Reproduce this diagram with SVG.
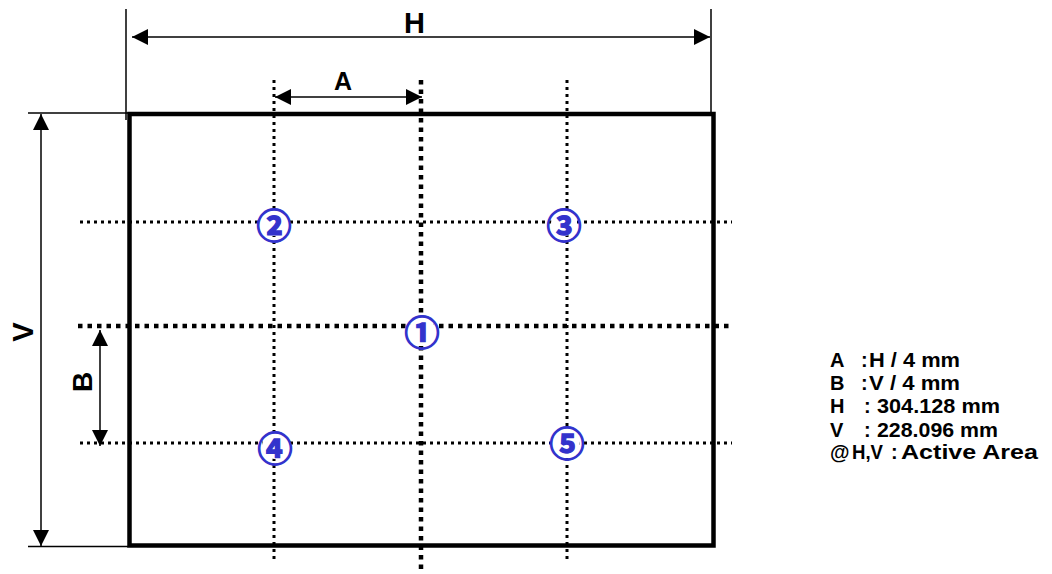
<svg xmlns="http://www.w3.org/2000/svg" width="1052" height="574" viewBox="0 0 1052 574">
<style>
.thin{stroke:#000;stroke-width:1.5;fill:none}
.dot{stroke:#000;stroke-width:3;stroke-dasharray:3 4;fill:none}
.dotk{stroke:#000;stroke-width:4.5;stroke-dasharray:4.5 5;fill:none}
.lbl{font-family:"Liberation Sans",Arial,sans-serif;font-weight:bold;fill:#000}
.num{font-family:"Noto Sans CJK JP","DejaVu Sans",sans-serif;font-weight:bold;font-size:35px;fill:#3333cc;stroke:#3333cc;stroke-width:1.3;text-anchor:middle;dominant-baseline:central}
.bg{fill:#fff;stroke:none}
</style>
<defs>
<marker id="ah" markerUnits="userSpaceOnUse" markerWidth="16" markerHeight="16" refX="14" refY="7" orient="auto-start-reverse" viewBox="0 0 14 14">
<path d="M0,0 L14,7 L0,14 Z" fill="#000"/>
</marker>
</defs>
<rect width="1052" height="574" fill="#fff"/>
<g id="grid">
<line class="dot" x1="274" y1="80" x2="274" y2="560"/>
<line class="dot" x1="567" y1="80" x2="567" y2="560"/>
<line class="dotk" x1="421" y1="80" x2="421" y2="574"/>
<line class="dot" x1="80" y1="222" x2="732" y2="222"/>
<line class="dotk" x1="78" y1="326" x2="732" y2="326"/>
<line class="dot" x1="80" y1="443" x2="732" y2="443"/>
</g>
<g id="active-area">
<rect x="129.5" y="114" width="584" height="431.5" fill="none" stroke="#000" stroke-width="4.5"/>
</g>
<g id="connectors">
<line class="thin" x1="126" y1="9" x2="126" y2="120"/>
<line class="thin" x1="711" y1="9" x2="711" y2="114"/>
<line class="thin" x1="28" y1="113" x2="128" y2="113"/>
<line class="thin" x1="28" y1="546.5" x2="128" y2="546.5"/>
<line class="thin" x1="132" y1="37" x2="710" y2="37" marker-start="url(#ah)" marker-end="url(#ah)"/>
<line class="thin" x1="275" y1="97" x2="422" y2="97" marker-start="url(#ah)" marker-end="url(#ah)"/>
<line class="thin" x1="41" y1="114" x2="41" y2="546" marker-start="url(#ah)" marker-end="url(#ah)"/>
<line class="thin" x1="100" y1="330" x2="100" y2="446" marker-start="url(#ah)" marker-end="url(#ah)"/>
</g>
<g id="dim-labels">
<text class="lbl" x="414.5" y="33" font-size="29" text-anchor="middle">H</text>
<text class="lbl" x="343" y="90" font-size="25" text-anchor="middle">A</text>
<text class="lbl" font-size="29" text-anchor="middle" transform="translate(33,332) rotate(-90)">V</text>
<text class="lbl" font-size="28" text-anchor="middle" transform="translate(92,382) rotate(-90)">B</text>
</g>
<g id="p1"><circle class="bg" cx="422" cy="330" r="13"/><text class="num" x="422" y="330">①</text></g>
<g id="p2"><circle class="bg" cx="274" cy="223" r="13"/><text class="num" x="274" y="223">②</text></g>
<g id="p3"><circle class="bg" cx="564" cy="223" r="13"/><text class="num" x="564" y="223">③</text></g>
<g id="p4"><circle class="bg" cx="275" cy="446" r="13"/><text class="num" x="275" y="446">④</text></g>
<g id="p5"><circle class="bg" cx="567" cy="441" r="13"/><text class="num" x="567" y="441">⑤</text></g>
<g id="legend" class="lbl" font-size="20">
<text y="367"><tspan x="830">A</tspan> <tspan x="861">:</tspan> <tspan x="869" textLength="91" lengthAdjust="spacingAndGlyphs">H / 4 mm</tspan></text>
<text y="390"><tspan x="830">B</tspan> <tspan x="861">:</tspan> <tspan x="869" textLength="91" lengthAdjust="spacingAndGlyphs">V / 4 mm</tspan></text>
<text y="413"><tspan x="830">H</tspan> <tspan x="864">:</tspan> <tspan x="877" textLength="123" lengthAdjust="spacingAndGlyphs">304.128 mm</tspan></text>
<text y="437"><tspan x="830">V</tspan> <tspan x="864">:</tspan> <tspan x="877" textLength="121" lengthAdjust="spacingAndGlyphs">228.096 mm</tspan></text>
<text y="459"><tspan x="830">@</tspan> <tspan x="852" textLength="31" lengthAdjust="spacingAndGlyphs">H,V</tspan> <tspan x="891">:</tspan> <tspan x="901" textLength="137" lengthAdjust="spacingAndGlyphs">Active Area</tspan></text>
</g>
</svg>
